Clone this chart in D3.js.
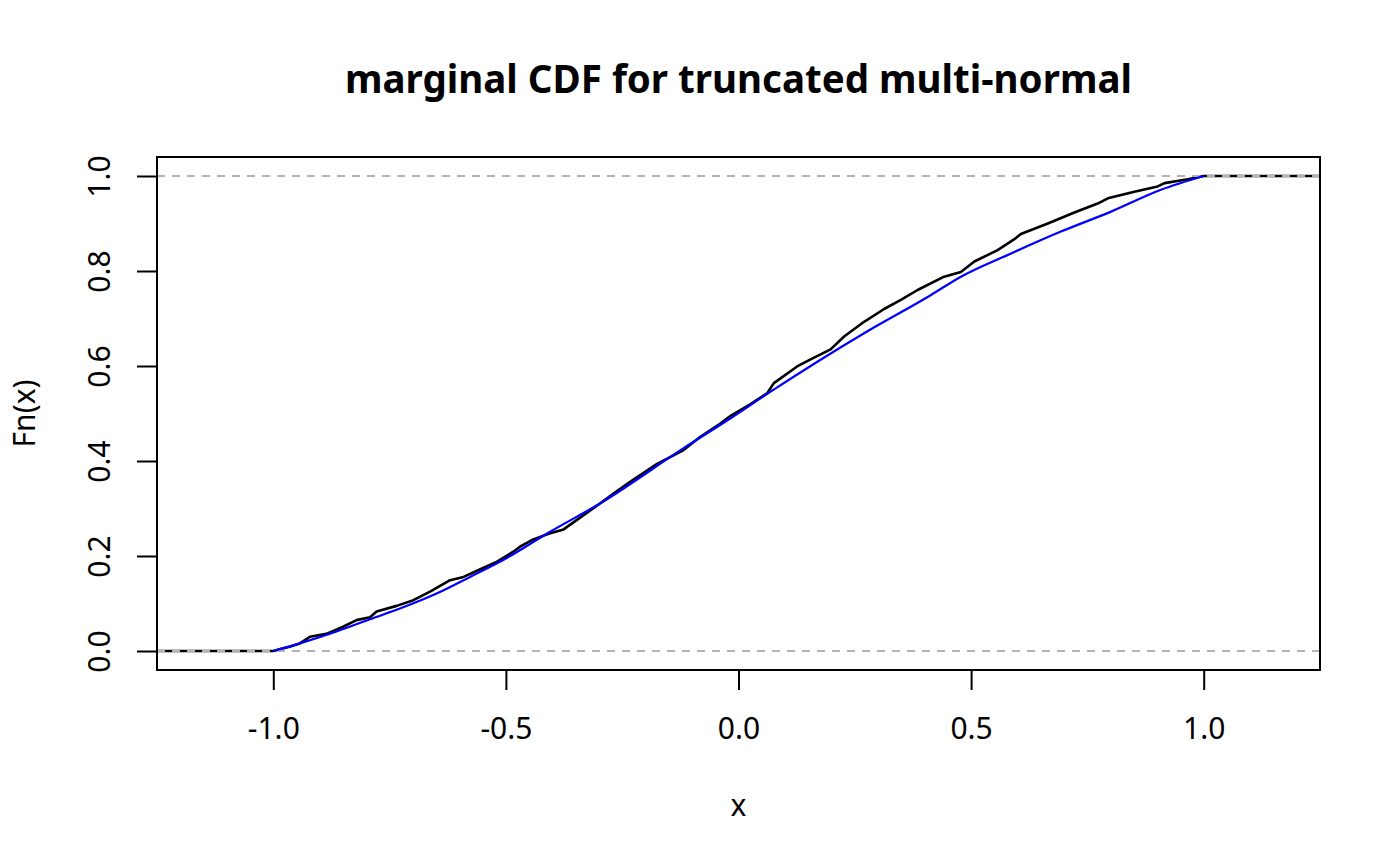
<!DOCTYPE html>
<html lang="en">
<head>
  <meta charset="UTF-8">
  <title>marginal CDF for truncated multi-normal</title>
  <style>
    html, body {
      margin: 0;
      background: #fff;
      overflow: hidden;
      width: 100%;
      height: 100%;
    }
    svg {
      position: absolute;
      top: 0;
      left: 0;
    }
    text {
      font-family: "Noto Sans", "Open Sans", sans-serif;
      fill: #000;
    }
  </style>
</head>
<body>
  <svg width="1400" height="866"></svg>
</body>
<script src="https://d3js.org/d3.v7.min.js"></script>
<script type="text/javascript">
  const ecdfX = [-1.0, -0.985, -0.965, -0.943, -0.921, -0.886, -0.850, -0.821, -0.792, -0.778,
    -0.735, -0.699, -0.663, -0.620, -0.591, -0.555, -0.519, -0.484, -0.469, -0.441,
    -0.405, -0.376, -0.333, -0.297, -0.268, -0.233, -0.175, -0.118, -0.082, -0.039,
    -0.017, 0.026, 0.062, 0.076, 0.126, 0.155, 0.198, 0.227, 0.270, 0.313,
    0.349, 0.385, 0.442, 0.478, 0.507, 0.557, 0.593, 0.607, 0.665, 0.722,
    0.772, 0.794, 0.851, 0.901, 0.916, 0.966, 1.0]
  const ecdfY = [0, 0.004, 0.009, 0.016, 0.030, 0.036, 0.051, 0.065, 0.071, 0.083,
    0.095, 0.107, 0.125, 0.149, 0.156, 0.172, 0.188, 0.209, 0.220, 0.235,
    0.248, 0.256, 0.286, 0.311, 0.332, 0.356, 0.394, 0.423, 0.451, 0.479,
    0.495, 0.520, 0.543, 0.564, 0.599, 0.614, 0.635, 0.662, 0.693, 0.720,
    0.739, 0.760, 0.788, 0.798, 0.820, 0.844, 0.867, 0.878, 0.900, 0.923,
    0.942, 0.953, 0.967, 0.978, 0.985, 0.993, 1.0]

  // theoretical marginal CDF (blue)
  const cdfX = [-1.0, -0.943, -0.864, -0.792, -0.721, -0.649, -0.577, -0.505, -0.405, -0.297,
    -0.118, -0.017, 0.069, 0.270, 0.413, 0.478, 0.586, 0.693, 0.801, 0.908, 1.0]
  const cdfY = [0, 0.016, 0.041, 0.067, 0.092, 0.121, 0.156, 0.192, 0.251, 0.311,
    0.427, 0.490, 0.546, 0.669, 0.749, 0.788, 0.837, 0.883, 0.925, 0.971, 1.0]

  const xTicks = [-1.0, -0.5, 0.0, 0.5, 1.0]
  const yTicks = [0.0, 0.2, 0.4, 0.6, 0.8, 1.0]
  const xLim = [-1.25, 1.25]
  const yLim = [-0.04, 1.04]

  const svg = d3.select('svg')
  const box = {left: 157, right: 1320, top: 157, bottom: 670}

  const x = d3.scaleLinear().domain(xLim).range([box.left, box.right])
  const y = d3.scaleLinear().domain(yLim).range([box.bottom, box.top])

  // R style labels: plain hyphen, one decimal
  const fmt = d => d.toFixed(1)

  const clip = svg.append('clipPath').attr('id', 'plot')
  clip.append('rect')
    .attr('x', box.left).attr('y', box.top)
    .attr('width', box.right - box.left).attr('height', box.bottom - box.top)

  const plot = svg.append('g').attr('clip-path', 'url(#plot)')

  // step function, with its flat ends out to the plot edges
  const ecdf = ecdfX.map((d, i) => [d, ecdfY[i]])
  ecdf.unshift([xLim[0], 0])
  ecdf.push([xLim[1], 1])

  const line = d3.line()
    .x(d => x(d[0]))
    .y(d => y(d[1]))

  plot.append('path')
    .datum(ecdf)
    .attr('d', line)
    .attr('fill', 'none')
    .attr('stroke', '#000')
    .attr('stroke-width', 2.6)
    .attr('stroke-linejoin', 'round')

  // dashed guide lines at 0 and 1
  plot.selectAll('line.h01')
    .data([0, 1])
    .enter()
    .append('line')
    .attr('class', 'h01')
    .attr('x1', box.left)
    .attr('x2', box.right)
    .attr('y1', d => y(d))
    .attr('y2', d => y(d))
    .attr('stroke', '#b3b3b3')
    .attr('stroke-width', 2)
    .attr('stroke-dasharray', '8,7')

  const cdf = cdfX.map((d, i) => [d, cdfY[i]])
  plot.append('path')
    .datum(cdf)
    .attr('d', line.curve(d3.curveMonotoneX))
    .attr('fill', 'none')
    .attr('stroke', '#0000ff')
    .attr('stroke-width', 2.2)

  // box
  svg.append('rect')
    .attr('x', box.left).attr('y', box.top)
    .attr('width', box.right - box.left).attr('height', box.bottom - box.top)
    .attr('fill', 'none')
    .attr('stroke', '#000')
    .attr('stroke-width', 2)

  // x axis
  const xAxis = svg.append('g')
    .attr('transform', 'translate(0,' + box.bottom + ')')
    .call(d3.axisBottom(x).tickValues(xTicks).tickFormat(fmt).tickSize(20))
  xAxis.select('.domain')
    .attr('d', 'M' + x(xTicks[0]) + ',0H' + x(xTicks[xTicks.length - 1]))
    .attr('stroke-width', 2)
  xAxis.selectAll('.tick line').attr('stroke-width', 2)
  xAxis.selectAll('.tick text')
    .attr('font-family', '"Noto Sans", sans-serif')
    .attr('font-size', 30)
    .attr('dy', '0')
    .attr('y', 69)

  // y axis, labels turned
  const yAxis = svg.append('g')
    .attr('transform', 'translate(' + box.left + ',0)')
    .call(d3.axisLeft(y).tickValues(yTicks).tickFormat(fmt).tickSize(20))
  yAxis.select('.domain')
    .attr('d', 'M0,' + y(yTicks[0]) + 'V' + y(yTicks[yTicks.length - 1]))
    .attr('stroke-width', 2)
  yAxis.selectAll('.tick line').attr('stroke-width', 2)
  yAxis.selectAll('.tick text')
    .attr('font-family', '"Noto Sans", sans-serif')
    .attr('font-size', 30)
    .attr('x', null)
    .attr('dy', '0')
    .attr('text-anchor', 'middle')
    .attr('transform', 'translate(-47,0) rotate(-90)')

  // titles
  svg.append('text')
    .attr('x', (box.left + box.right) / 2)
    .attr('y', 93)
    .attr('text-anchor', 'middle')
    .attr('font-size', 38.5)
    .attr('font-weight', 'bold')
    .text('marginal CDF for truncated multi-normal')

  svg.append('text')
    .attr('x', (box.left + box.right) / 2)
    .attr('y', 816)
    .attr('text-anchor', 'middle')
    .attr('font-size', 30)
    .text('x')

  svg.append('text')
    .attr('transform', 'translate(35,' + (box.top + box.bottom) / 2 + ') rotate(-90)')
    .attr('text-anchor', 'middle')
    .attr('font-size', 30)
    .text('Fn(x)')
</script>
</html>
